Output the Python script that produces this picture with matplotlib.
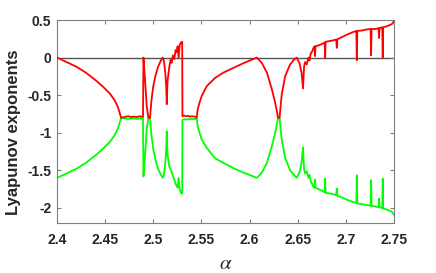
import matplotlib
matplotlib.use("Agg")
import matplotlib.pyplot as plt

plt.rcParams['axes.unicode_minus'] = False
plt.rcParams['font.family'] = ['Liberation Sans', 'DejaVu Sans']
plt.rcParams['mathtext.fontset'] = 'stix'

# alpha samples shared by both exponents
alpha = [
    2.400, 2.405, 2.410, 2.420, 2.430, 2.440, 2.448, 2.455, 2.460, 2.463, 2.465, 2.4665,
    2.470, 2.474, 2.477, 2.480, 2.483, 2.486, 2.4893,
    2.4898, 2.4914, 2.4932, 2.4949, 2.4966,
    2.4980, 2.5000, 2.5025, 2.5050, 2.5075, 2.5098,
    2.5110, 2.5125, 2.5135, 2.5140, 2.5145, 2.5150, 2.5167, 2.5180, 2.5190, 2.5205,
    2.5218, 2.5232, 2.5240, 2.5253, 2.5263, 2.5274, 2.5288, 2.5300, 2.5303,
    2.5320, 2.5340, 2.5360, 2.5380, 2.5400, 2.5430, 2.5451,
    2.5460, 2.5475, 2.5503, 2.5555, 2.5642, 2.5728, 2.5832, 2.5936, 2.6000, 2.6075,
    2.6127, 2.6180, 2.6231, 2.6266, 2.6285, 2.6295, 2.6312,
    2.6320, 2.6334, 2.6369, 2.6421, 2.6460, 2.6490, 2.6520, 2.6540, 2.6555, 2.6566,
    2.6576, 2.6594, 2.6611, 2.6622, 2.6636, 2.6650, 2.6660, 2.6675, 2.6680, 2.6685,
    2.6733, 2.6780, 2.6785, 2.6790, 2.6854, 2.6900, 2.6906, 2.6912, 2.6940, 2.7010,
    2.7096, 2.7109, 2.7114, 2.7119, 2.7166, 2.7220, 2.7257, 2.7262, 2.7267, 2.7304,
    2.7340, 2.7345, 2.7350, 2.7373, 2.7378, 2.7383, 2.7388, 2.7425, 2.7477, 2.7500,
]

lyap_max = [
    0.00, -0.03, -0.06, -0.12, -0.20, -0.30, -0.39, -0.48, -0.57, -0.65, -0.73, -0.80,
    -0.79, -0.78, -0.79, -0.785, -0.79, -0.78, -0.79,
    0.00, -0.29, -0.65, -0.80, -0.80,
    -0.58, -0.38, -0.23, -0.12, -0.05, 0.00,
    -0.04, -0.20, -0.40, -0.62, -0.40, -0.29, -0.12, -0.03, -0.07, 0.03,
    -0.02, 0.10, 0.07, 0.15, 0.00, 0.17, 0.20, 0.21, -0.78,
    -0.77, -0.78, -0.775, -0.785, -0.78, -0.785, -0.80,
    -0.70, -0.62, -0.51, -0.38, -0.27, -0.20, -0.137, -0.075, -0.04, 0.00,
    -0.07, -0.20, -0.42, -0.60, -0.72, -0.80, -0.80,
    -0.68, -0.49, -0.25, -0.09, -0.03, 0.00, -0.08, -0.20, -0.41, -0.12,
    -0.06, -0.09, 0.00, -0.04, 0.06, 0.08, 0.12, 0.15, 0.02, 0.15,
    0.17, 0.20, 0.00, 0.21, 0.225, 0.24, 0.13, 0.245, 0.26, 0.305,
    0.35, 0.35, -0.035, 0.355, 0.36, 0.375, 0.38, 0.03, 0.38, 0.38,
    0.39, 0.26, 0.395, 0.40, 0.40, 0.00, 0.405, 0.415, 0.445, 0.48,
]

lyap_second = [
    -1.60, -1.57, -1.54, -1.48, -1.40, -1.30, -1.21, -1.12, -1.03, -0.95, -0.87, -0.80,
    -0.81, -0.815, -0.81, -0.81, -0.815, -0.81, -0.81,
    -1.58, -1.31, -0.95, -0.80, -0.80,
    -1.02, -1.22, -1.37, -1.48, -1.55, -1.60,
    -1.56, -1.40, -1.20, -0.98, -1.20, -1.31, -1.45, -1.49, -1.52, -1.58,
    -1.62, -1.68, -1.70, -1.73, -1.60, -1.75, -1.80, -1.81, -0.83,
    -0.82, -0.825, -0.82, -0.82, -0.815, -0.82, -0.80,
    -0.90, -0.98, -1.09, -1.20, -1.34, -1.40, -1.47, -1.53, -1.56, -1.60,
    -1.53, -1.40, -1.18, -1.00, -0.88, -0.80, -0.80,
    -0.92, -1.09, -1.33, -1.50, -1.56, -1.60, -1.52, -1.40, -1.19, -1.48,
    -1.54, -1.51, -1.60, -1.56, -1.65, -1.68, -1.71, -1.73, -1.62, -1.73,
    -1.76, -1.79, -1.61, -1.80, -1.81, -1.83, -1.74, -1.84, -1.85, -1.89,
    -1.93, -1.93, -1.565, -1.94, -1.95, -1.96, -1.97, -1.63, -1.97, -1.98,
    -1.99, -1.875, -1.99, -2.00, -2.00, -1.61, -2.01, -2.02, -2.05, -2.09,
]

xticks = [2.4, 2.45, 2.5, 2.55, 2.6, 2.65, 2.7, 2.75]
xticklabels = ["2.4", "2.45", "2.5", "2.55", "2.6", "2.65", "2.7", "2.75"]
yticks = [0.5, 0, -0.5, -1, -1.5, -2]
yticklabels = ["0.5", "0", "-0.5", "-1", "-1.5", "-2"]

fig = plt.figure(figsize=(4.36, 2.73), dpi=100)
ax = fig.add_axes([57/436, 1 - 223/273, 337/436, 203/273])

ax.axhline(0, color='#555555', lw=1.0, zorder=1)
ax.plot(alpha, lyap_max, color='#ff0000', lw=1.3, zorder=3)
ax.plot(alpha, lyap_second, color='#00ff00', lw=1.3, zorder=2)

ax.set_xlim(2.4, 2.75)
ax.set_ylim(-2.2, 0.5)
ax.set_xticks(xticks)
ax.set_xticklabels(xticklabels)
ax.set_yticks(yticks)
ax.set_yticklabels(yticklabels)

for s in ax.spines.values():
    s.set_color('#808080')
    s.set_linewidth(0.8)
ax.tick_params(direction='in', length=3, width=0.8, color='#808080',
               top=True, right=True, labelsize=10, labelcolor='#262626')
ax.tick_params(axis='y', pad=4)
ax.tick_params(axis='x', pad=7)
for lab in ax.get_xticklabels() + ax.get_yticklabels():
    lab.set_fontweight('bold')

ax.set_ylabel("Lyapunov exponents", fontsize=12, fontweight='bold', color='#262626')
ax.yaxis.set_label_coords(-36/337, 0.445)
ax.set_xlabel(r"$\alpha$", fontsize=15, color='#262626', labelpad=5)

fig.savefig("out.png", dpi=100)
